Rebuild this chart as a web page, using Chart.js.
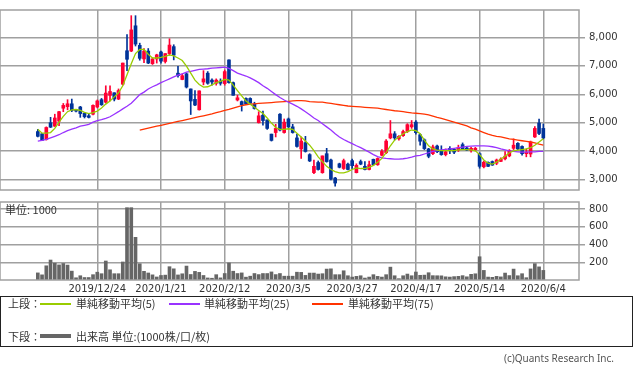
<!DOCTYPE html>
<html><head><meta charset="utf-8">
<script src="https://cdn.jsdelivr.net/npm/chart.js@4.4.1/dist/chart.umd.min.js"></script>
<style>
html,body{margin:0;padding:0;background:#fff;width:633px;height:373px;overflow:hidden;position:relative;font-family:'Noto Sans CJK JP','DejaVu Sans',sans-serif;}
canvas{position:absolute;left:0;}
.t{position:absolute;white-space:nowrap;color:#333;font-size:11px;line-height:12px;}
.ln{position:absolute;height:1.5px;}
#legend{position:absolute;left:0;top:296px;width:631px;height:49px;border:1px solid #222;}
</style></head>
<body>
<canvas id="price" width="633" height="200" style="top:0"></canvas>
<canvas id="vol" width="633" height="108" style="top:192px"></canvas>
<div class="t" style="left:5px;top:203px;">単位: 1000</div>
<div id="legend"></div>
<div class="t" style="left:8px;top:297px;">上段：</div>
<div class="ln" style="left:40px;top:303px;width:31px;background:#99cc00"></div>
<div class="t" style="left:76px;top:297px;">単純移動平均(5)</div>
<div class="ln" style="left:169px;top:303px;width:31px;background:#9933ff"></div>
<div class="t" style="left:204px;top:297px;">単純移動平均(25)</div>
<div class="ln" style="left:312px;top:303px;width:31px;background:#ff3300"></div>
<div class="t" style="left:348px;top:297px;">単純移動平均(75)</div>
<div class="t" style="left:8px;top:330px;">下段：</div>
<div class="ln" style="left:40px;top:334px;width:31px;height:4px;background:#666"></div>
<div class="t" style="left:76px;top:330px;">出来高 単位:(1000株/口/枚)</div>
<div class="t" style="right:19px;top:352px;font-size:10px;color:#555;font-family:'Noto Sans','DejaVu Sans',sans-serif;">(c)Quants Research Inc.</div>
<script>
const dates = [
"2019/12/4","2019/12/5","2019/12/6","2019/12/9","2019/12/10","2019/12/11","2019/12/12","2019/12/13","2019/12/16","2019/12/17","2019/12/18","2019/12/19","2019/12/20","2019/12/23",
"2019/12/24","2019/12/25","2019/12/26","2019/12/27","2019/12/30",
"2020/1/6","2020/1/7","2020/1/8","2020/1/9","2020/1/10","2020/1/14","2020/1/15","2020/1/16","2020/1/17","2020/1/20","2020/1/21","2020/1/22","2020/1/23","2020/1/24","2020/1/27","2020/1/28","2020/1/29","2020/1/30","2020/1/31",
"2020/2/3","2020/2/4","2020/2/5","2020/2/6","2020/2/7","2020/2/10","2020/2/12","2020/2/13","2020/2/14","2020/2/17","2020/2/18","2020/2/19","2020/2/20","2020/2/21","2020/2/25","2020/2/26","2020/2/27","2020/2/28",
"2020/3/2","2020/3/3","2020/3/4","2020/3/5","2020/3/6","2020/3/9","2020/3/10","2020/3/11","2020/3/12","2020/3/13","2020/3/16","2020/3/17","2020/3/18","2020/3/19","2020/3/23","2020/3/24","2020/3/25","2020/3/26","2020/3/27","2020/3/30","2020/3/31",
"2020/4/1","2020/4/2","2020/4/3","2020/4/6","2020/4/7","2020/4/8","2020/4/9","2020/4/10","2020/4/13","2020/4/14","2020/4/15","2020/4/16","2020/4/17","2020/4/20","2020/4/21","2020/4/22","2020/4/23","2020/4/24","2020/4/27","2020/4/28","2020/4/30",
"2020/5/1","2020/5/7","2020/5/8","2020/5/11","2020/5/12","2020/5/13","2020/5/14","2020/5/15","2020/5/18","2020/5/19","2020/5/20","2020/5/21","2020/5/22","2020/5/25","2020/5/26","2020/5/27","2020/5/28","2020/5/29",
"2020/6/1","2020/6/2","2020/6/3","2020/6/4"];

const tickLabels = ["2019/12/24","2020/1/21","2020/2/12","2020/3/5","2020/3/27","2020/4/17","2020/5/14","2020/6/4"];
const priceTicks = [3000,4000,5000,6000,7000,8000];
const volumeTicks = [200,400,600,800];

const opens = [4689,4611,4411,5000,4878,5055,5511,5566,5667,5433,5555,5333,5244,5300,
5555,5811,5722,5966,6055,5833,6355,7533,7523,8411,7722,7244,7522,7078,7244,7489,7155,7433,7678,6744,6522,6722,6189,5822,
5455,6433,6744,6500,6389,6466,6378,7211,6411,5800,5744,5855,5855,5655,5000,5266,5100,4600,
4655,5300,4655,5133,4855,4466,4077,4300,3878,3244,3600,3244,3911,3689,3055,3555,3389,3544,3666,3244,3633,
3466,3355,3711,3522,3855,3944,4466,4611,4433,4544,4689,4855,5022,4578,4400,4078,3911,4180,4022,3878,4100,
4066,4040,4230,4110,4022,4050,3911,3450,3605,3633,3577,3640,3730,3833,4100,4277,4166,3911,
3900,4500,4989,4800];
const highs = [4767,4622,4855,5190,5300,5400,5678,5811,5833,5460,5578,5355,5300,5633,
5800,5855,6300,6300,6055,6189,7100,8100,8767,8767,7800,7611,7611,7280,7411,7522,7433,7955,7744,6989,6722,6744,6189,6133,
6122,6833,6800,6544,6544,6544,6855,7211,6433,5966,5766,5878,5878,5722,5389,5411,5100,4600,
4944,5322,5133,5166,4944,4600,4500,4522,3911,3689,3655,3833,4100,3722,3078,3578,3722,3578,3722,3555,3689,
3633,3655,3722,3766,4055,4411,5078,4689,4544,4744,4966,5078,5078,4611,4430,4100,4211,4211,4189,4078,4160,
4100,4211,4290,4133,4133,4133,3944,3655,3622,3655,3722,3766,3989,4055,4433,4300,4189,4078,
4355,4866,5133,4955];
const lows = [4500,4367,4389,4830,4870,4900,5389,5455,5389,5380,5190,5167,5167,5278,
5522,5611,5689,5767,5767,5811,6322,6833,7500,7700,7200,7111,7078,7050,7100,7100,7100,7378,7211,6600,6511,6222,5289,5600,
5444,6333,6355,6322,6322,6322,6322,6389,5966,5766,5411,5633,5678,5478,4989,4911,4766,4355,
4500,4711,4633,4833,4633,4144,3744,3966,3633,3211,3333,3222,3611,2989,2766,3411,3355,3344,3389,3233,3522,
3344,3344,3500,3500,3833,3911,4433,4389,4389,4522,4655,4800,4600,4211,4055,3766,3878,3944,3855,3833,3911,
3911,3989,4055,4022,3966,4011,3400,3411,3455,3500,3522,3633,3688,3800,4055,4055,3855,3800,
3800,4480,4580,4433];
const closes = [4522,4378,4833,4844,5167,5389,5611,5667,5433,5411,5322,5211,5189,5611,
5767,5633,6044,6100,5833,6133,7100,7233,8266,7767,7266,7522,7100,7244,7389,7167,7433,7733,7378,6655,6655,6255,5766,5622,
6122,6544,6389,6433,6500,6389,6800,6411,5966,5878,5633,5655,5689,5500,5244,5078,4800,4378,
4800,4744,5022,4855,4655,4166,4355,3989,3655,3466,3355,3833,3633,3022,2878,3433,3666,3355,3489,3500,3544,
3355,3522,3522,3744,3989,4355,4611,4466,4522,4689,4933,4933,4650,4350,4090,3820,4150,3980,3878,3975,4022,
3966,4120,4066,4040,4100,4100,3466,3611,3466,3510,3689,3722,3822,4022,4211,4078,3911,3966,
4322,4800,4622,4466];
const volumes = [80,58,160,225,190,170,186,168,100,25,48,28,28,60,
88,71,214,115,71,71,203,815,815,481,183,98,79,58,34,51,55,150,126,57,70,157,62,97,
86,51,23,20,60,24,73,192,99,73,80,32,43,73,61,73,73,91,
61,73,43,43,43,88,86,52,78,78,67,71,123,126,60,60,104,48,33,41,48,
22,33,60,41,33,60,145,48,15,48,67,48,90,53,55,82,49,48,47,36,33,
38,41,49,36,64,70,262,108,33,30,41,35,78,50,123,48,71,26,
125,184,148,108];
const ma5 = [4767,4633,4633,4655,4800,5022,5222,5389,5455,5466,5433,5366,5322,5355,
5411,5522,5655,5766,5911,6055,6300,6689,7078,7433,7578,7578,7411,7278,7278,7300,7333,7389,7355,7278,7189,6989,6744,6500,
6344,6255,6266,6333,6411,6455,6522,6500,6322,6133,5944,5766,5655,5544,5433,5322,5166,4989,
4833,4766,4766,4789,4766,4633,4500,4355,4211,4022,3800,3633,3466,3355,3278,3233,3233,3278,3355,3411,3389,
3389,3433,3500,3611,3744,3944,4189,4389,4500,4611,4689,4744,4722,4611,4389,4189,4078,4033,4022,4022,4022,
4022,4044,4055,4055,4044,4011,3878,3689,3578,3544,3611,3722,3822,3944,4011,4033,4055,4078,
4120,4210,4320,4440];
const ma25 = [4355,4378,4411,4466,4522,4578,4655,4722,4778,4822,4878,4911,4944,5022,
5078,5111,5155,5211,5300,5389,5489,5578,5689,5833,5989,6078,6189,6266,6333,6411,6478,6544,6611,6678,6722,6778,6811,6844,
6878,6889,6900,6922,6933,6944,6955,6911,6833,6744,6689,6644,6578,6500,6411,6300,6211,6100,
5989,5889,5800,5722,5655,5578,5489,5389,5278,5166,5078,4966,4855,4744,4611,4500,4411,4333,4266,4189,4122,
4044,3966,3878,3811,3766,3744,3733,3722,3722,3733,3755,3789,3833,3855,3900,3944,3989,4022,4044,4066,4078,
4100,4122,4144,4166,4178,4189,4189,4189,4178,4155,4122,4078,4044,4011,3989,3978,3966,3966,
3978,3978,3989,3989];
const ma75 = [null,null,null,null,null,null,null,null,null,null,null,null,null,null,
null,null,null,null,null,null,null,null,null,null,4744,4778,4811,4844,4878,4911,4944,4978,5011,5044,5078,5111,5144,5178,
5211,5244,5278,5311,5355,5389,5433,5466,5511,5555,5600,5633,5655,5666,5678,5689,5700,5711,
5722,5733,5744,5755,5766,5778,5778,5766,5744,5733,5722,5722,5700,5678,5655,5633,5611,5589,5578,5566,5555,
5544,5533,5522,5511,5489,5466,5444,5422,5411,5389,5366,5344,5333,5322,5300,5278,5233,5189,5155,5111,5066,
5022,4978,4933,4889,4822,4778,4711,4655,4600,4555,4522,4500,4466,4433,4411,4389,4366,4344,
4322,4289,4244,4211];

const UP = '#ff0033', DOWN = '#003399', GRID = '#a0a0a0';
const X_MIN = -8.9, X_MAX = 127.4;
const tickIdx = tickLabels.map(l => dates.indexOf(l));
const candleColors = opens.map((o, i) => closes[i] >= o ? UP : DOWN);
const pts = arr => arr.map((v, i) => ({x: i, y: v}));

Chart.defaults.font.family = "'DejaVu Sans', sans-serif";
Chart.defaults.font.size = 10;
Chart.defaults.color = '#333';

const frame = {
  id: 'frame',
  afterDraw(chart) {
    const a = chart.chartArea, c = chart.ctx;
    c.save(); c.strokeStyle = GRID; c.lineWidth = 1.5;
    c.strokeRect(a.left, a.top, a.right - a.left, a.bottom - a.top);
    c.restore();
  }
};

const xScale = (showLabels, h) => ({
  type: 'linear', min: X_MIN, max: X_MAX, offset: false,
  afterBuildTicks: s => { s.ticks = tickIdx.map(v => ({value: v})); },
  afterFit: s => { s.height = h; },
  ticks: {display: showLabels, autoSkip: false, maxRotation: 0, padding: 3, color: '#333',
          font: {size: 10}, callback: v => dates[v] || ''},
  grid: {color: GRID, lineWidth: 1.5, drawTicks: false, offset: false},
  border: {display: false}
});

const yScale = (min, max, ticks, fmt) => ({
  position: 'right', min: min, max: max,
  afterBuildTicks: s => { s.ticks = ticks.map(v => ({value: v})); },
  afterFit: s => { s.width = 54; },
  ticks: {padding: 4, color: '#333', font: {size: 10}, callback: fmt},
  grid: {color: GRID, lineWidth: 1.5, tickLength: 6, drawTicks: true},
  border: {display: false}
});

new Chart(document.getElementById('price'), {
  type: 'bar',
  data: {datasets: [
    {type: 'line', data: pts(ma5), borderColor: '#99cc00', borderWidth: 1.3, pointRadius: 0, order: 0},
    {type: 'line', data: pts(ma25), borderColor: '#9933ff', borderWidth: 1.3, pointRadius: 0, order: 0},
    {type: 'line', data: pts(ma75), borderColor: '#ff3300', borderWidth: 1.3, pointRadius: 0, order: 0},
    {type: 'bar', data: opens.map((o, i) => ({x: i, y: [o, closes[i]]})), backgroundColor: candleColors,
     barThickness: 3, grouped: false, minBarLength: 1, order: 1},
    {type: 'bar', data: lows.map((l, i) => ({x: i, y: [l, highs[i]]})), backgroundColor: candleColors,
     barThickness: 1, grouped: false, order: 2}
  ]},
  options: {
    animation: false, responsive: false, maintainAspectRatio: false,
    layout: {padding: 0},
    plugins: {legend: {display: false}, tooltip: {enabled: false}},
    scales: {
      x: xScale(false, 10),
      y: yScale(2633.3, 8966.7, priceTicks, v => v.toLocaleString('en-US'))
    }
  },
  plugins: [frame]
});

new Chart(document.getElementById('vol'), {
  type: 'bar',
  data: {datasets: [
    {data: pts(volumes), backgroundColor: '#666666', barThickness: 3, grouped: false}
  ]},
  options: {
    animation: false, responsive: false, maintainAspectRatio: false,
    layout: {padding: {top: 10}},
    plugins: {legend: {display: false}, tooltip: {enabled: false}},
    scales: {
      x: xScale(true, 20),
      y: yScale(0, 878.9, volumeTicks, v => String(v))
    }
  },
  plugins: [frame]
});
</script>
</body></html>
